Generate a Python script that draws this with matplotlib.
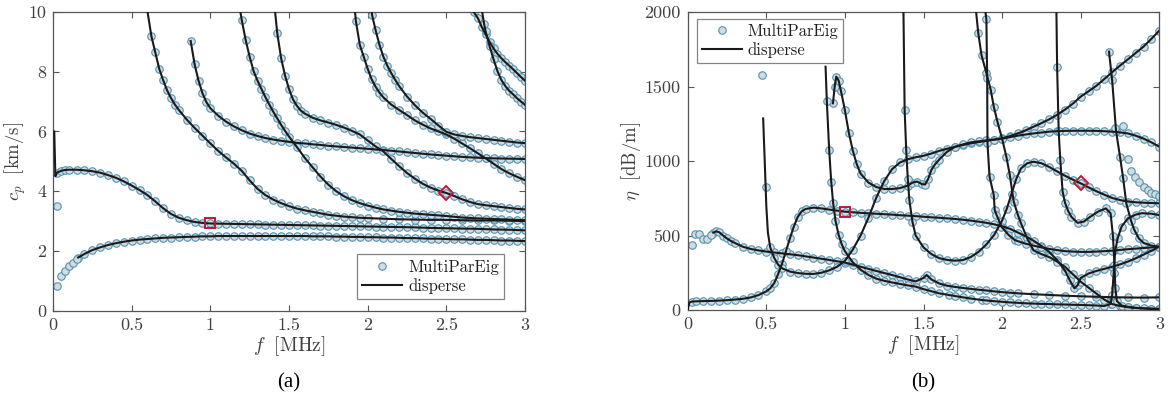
import matplotlib
matplotlib.use('Agg')
import matplotlib.pyplot as plt
from matplotlib.lines import Line2D

plt.rcParams['font.family'] = 'serif'
plt.rcParams['font.serif'] = ['cmr10', 'DejaVu Serif']
plt.rcParams['mathtext.fontset'] = 'cm'
plt.rcParams['axes.formatter.use_mathtext'] = True

# ================= left panel: phase velocity c_p [km/s] =================
a0_f = [0.16, 0.2, 0.25, 0.3, 0.35, 0.4, 0.45, 0.5, 0.55, 0.6, 0.65, 0.7, 0.75, 0.8, 0.85, 0.9, 0.95, 1.0,
        1.05, 1.1, 1.15, 1.2, 1.25, 1.3, 1.35, 1.4, 1.45, 1.5, 1.55, 1.6, 1.65, 1.7, 1.75, 1.8, 1.85, 1.9,
        1.95, 2.0, 2.05, 2.1, 2.15, 2.2, 2.25, 2.3, 2.35, 2.4, 2.45, 2.5, 2.55, 2.6, 2.65, 2.7, 2.75, 2.8,
        2.85, 2.9, 2.95, 3.0]
a0_c = [1.78, 1.9, 2.03, 2.12, 2.2, 2.26, 2.31, 2.35, 2.38, 2.4, 2.42, 2.44, 2.45, 2.46, 2.47, 2.48, 2.49, 2.49,
        2.5, 2.5, 2.5, 2.5, 2.5, 2.5, 2.5, 2.5, 2.5, 2.5, 2.5, 2.5, 2.49, 2.49, 2.49, 2.48, 2.48, 2.47,
        2.47, 2.46, 2.46, 2.45, 2.45, 2.44, 2.43, 2.43, 2.42, 2.41, 2.41, 2.4, 2.39, 2.39, 2.38, 2.37, 2.37, 2.36,
        2.35, 2.35, 2.34, 2.33]
a0_xf = [0.023, 0.05, 0.076, 0.1, 0.125, 0.15]
a0_xc = [0.83, 1.17, 1.33, 1.5, 1.61, 1.74]

s0_f = [0.008, 0.015, 0.025, 0.05, 0.075, 0.1, 0.15, 0.2, 0.25, 0.3, 0.35, 0.4, 0.45, 0.5, 0.55, 0.6, 0.65,
        0.7, 0.75, 0.8, 0.85, 0.9, 0.95, 1.0, 1.05, 1.1, 1.15, 1.2, 1.25, 1.3, 1.35, 1.4, 1.45, 1.5, 1.55,
        1.6, 1.65, 1.7, 1.75, 1.8, 1.85, 1.9, 1.95, 2.0, 2.05, 2.1, 2.15, 2.2, 2.25, 2.3, 2.35, 2.4, 2.45,
        2.5, 2.55, 2.6, 2.65, 2.7, 2.75, 2.8, 2.85, 2.9, 2.95, 3.0]
s0_c = [6.0, 4.5, 4.62, 4.68, 4.71, 4.72, 4.72, 4.7, 4.67, 4.62, 4.54, 4.45, 4.33, 4.19, 4.04, 3.87, 3.66,
        3.43, 3.24, 3.11, 3.03, 2.97, 2.94, 2.92, 2.915, 2.91, 2.905, 2.9, 2.895, 2.89, 2.885, 2.88, 2.875, 2.87, 2.865,
        2.86, 2.855, 2.85, 2.845, 2.84, 2.835, 2.83, 2.825, 2.82, 2.815, 2.81, 2.805, 2.8, 2.795, 2.79, 2.78, 2.77, 2.765,
        2.76, 2.755, 2.75, 2.745, 2.74, 2.73, 2.72, 2.715, 2.71, 2.7, 2.69]
s0_xf = [0.028]
s0_xc = [3.5]

a1_f = [0.598, 0.625, 0.65, 0.675, 0.7, 0.725, 0.75, 0.775, 0.8, 0.85, 0.9, 0.95, 1.0, 1.05, 1.1, 1.15, 1.2,
        1.25, 1.3, 1.35, 1.4, 1.45, 1.5, 1.55, 1.6, 1.65, 1.7, 1.75, 1.8, 1.85, 1.9, 1.95, 2.0, 2.1, 2.2,
        2.3, 2.4, 2.5, 2.6, 2.7, 2.8, 2.9, 3.0]
a1_c = [10.1, 9.2, 8.65, 8.1, 7.72, 7.38, 7.12, 6.9, 6.72, 6.4, 6.12, 5.86, 5.6, 5.35, 5.13, 4.92, 4.68,
        4.36, 4.08, 3.87, 3.72, 3.6, 3.5, 3.42, 3.36, 3.31, 3.26, 3.21, 3.18, 3.15, 3.13, 3.11, 3.1, 3.08, 3.06,
        3.05, 3.04, 3.04, 3.03, 3.02, 3.02, 3.01, 3.0]

s1_f = [0.875, 0.9, 0.925, 0.95, 0.975, 1.0, 1.05, 1.1, 1.15, 1.2, 1.25, 1.3, 1.35, 1.4, 1.45, 1.5, 1.55,
        1.6, 1.65, 1.7, 1.75, 1.8, 1.85, 1.9, 1.95, 2.0, 2.05, 2.1, 2.15, 2.2, 2.25, 2.3, 2.35, 2.4, 2.45,
        2.5, 2.55, 2.6, 2.65, 2.7, 2.75, 2.8, 2.85, 2.9, 2.95, 3.0]
s1_c = [9.03, 8.25, 7.7, 7.28, 6.98, 6.78, 6.53, 6.33, 6.17, 6.04, 5.93, 5.85, 5.78, 5.73, 5.69, 5.65, 5.62,
        5.6, 5.57, 5.55, 5.52, 5.5, 5.48, 5.46, 5.44, 5.42, 5.4, 5.38, 5.355, 5.33, 5.305, 5.28, 5.255, 5.23, 5.21,
        5.19, 5.17, 5.15, 5.135, 5.12, 5.11, 5.1, 5.095, 5.09, 5.085, 5.08]

m2_f = [1.188, 1.2, 1.225, 1.25, 1.275, 1.3, 1.325, 1.35, 1.375, 1.4, 1.425, 1.45, 1.475, 1.5, 1.55, 1.6,
        1.65, 1.7, 1.75, 1.8, 1.85, 1.9, 1.95, 2.0, 2.05, 2.1, 2.15, 2.2, 2.25, 2.3, 2.35, 2.4, 2.45, 2.5,
        2.55, 2.6, 2.65, 2.7, 2.75, 2.8, 2.85, 2.9, 2.95, 3.0]
m2_c = [10.1, 9.72, 9.05, 8.5, 8.02, 7.7, 7.42, 7.15, 6.9, 6.66, 6.44, 6.22, 6.02, 5.83, 5.48, 5.12,
        4.8, 4.49, 4.22, 4.0, 3.83, 3.7, 3.6, 3.52, 3.45, 3.39, 3.35, 3.31, 3.28, 3.25, 3.23, 3.21, 3.19, 3.17,
        3.145, 3.12, 3.105, 3.09, 3.08, 3.07, 3.06, 3.05, 3.04, 3.03]

m4_f = [1.41, 1.425, 1.45, 1.475, 1.5, 1.525, 1.55, 1.575, 1.6, 1.65, 1.7, 1.75, 1.8, 1.85, 1.9, 1.95,
        2.0, 2.05, 2.1, 2.15, 2.2, 2.25, 2.3, 2.35, 2.4, 2.45, 2.5, 2.55, 2.6, 2.65, 2.7, 2.75, 2.8, 2.85,
        2.9, 2.95, 3.0]
m4_c = [10.1, 9.3, 8.45, 7.87, 7.42, 7.08, 6.86, 6.7, 6.6, 6.46, 6.37, 6.3, 6.22, 6.13, 6.02, 5.9,
        5.7, 5.5, 5.33, 5.08, 4.84, 4.61, 4.42, 4.25, 4.12, 4.02, 3.94, 3.84, 3.73, 3.64, 3.57, 3.53, 3.5, 3.47,
        3.44, 3.41, 3.39]

m5_f = [1.918, 1.925, 1.95, 1.975, 2.0, 2.025, 2.05, 2.075, 2.1, 2.15, 2.2, 2.25, 2.3, 2.35, 2.4, 2.45,
        2.5, 2.55, 2.6, 2.65, 2.7, 2.75, 2.8, 2.85, 2.9, 2.95, 3.0]
m5_c = [10.1, 9.7, 8.9, 8.5, 8.1, 7.75, 7.5, 7.3, 7.14, 6.9, 6.72, 6.55, 6.37, 6.23, 6.1, 6.0,
        5.9, 5.76, 5.6, 5.44, 5.27, 5.1, 4.92, 4.74, 4.6, 4.48, 4.37]

m6_f = [2.024, 2.028, 2.05, 2.075, 2.1, 2.125, 2.15, 2.175, 2.2, 2.25, 2.3, 2.35, 2.4, 2.45, 2.5, 2.55,
        2.6, 2.65, 2.7, 2.75, 2.8, 2.85, 2.9, 2.95, 3.0]
m6_c = [10.1, 9.9, 9.4, 8.9, 8.5, 8.2, 7.95, 7.73, 7.52, 7.17, 6.88, 6.63, 6.42, 6.2, 5.99, 5.9,
        5.85, 5.81, 5.78, 5.75, 5.72, 5.69, 5.66, 5.63, 5.61]

m7_f = [2.674, 2.7, 2.725, 2.75, 2.775, 2.8, 2.825, 2.85, 2.875, 2.9, 2.925, 2.95, 2.975, 3.0]
m7_c = [10.0, 9.8, 9.5, 9.25, 9.0, 8.78, 8.6, 8.45, 8.32, 8.2, 8.08, 7.95, 7.82, 7.7]

m8_f = [2.725, 2.74, 2.75, 2.775, 2.8, 2.825, 2.85, 2.875, 2.9, 2.925, 2.95, 2.975, 3.0]
m8_c = [10.1, 9.6, 9.35, 8.85, 8.42, 8.02, 7.72, 7.52, 7.36, 7.24, 7.11, 7.0, 6.89]

# (f, value, number of leading points drawn as line only)
left_curves = [(a0_f, a0_c, 0), (s0_f, s0_c, 2), (a1_f, a1_c, 1), (s1_f, s1_c, 0), (m2_f, m2_c, 1),
               (m4_f, m4_c, 1), (m5_f, m5_c, 1), (m6_f, m6_c, 1), (m7_f, m7_c, 0), (m8_f, m8_c, 1)]
left_extra = [(a0_xf, a0_xc), (s0_xf, s0_xc)]
left_square = (1.0, 2.92)
left_diamond = (2.5, 3.94)

# ================= right panel: attenuation eta [dB/m] =================
r_a0_f = [0.163, 0.18, 0.2, 0.225, 0.25, 0.275, 0.3, 0.35, 0.4, 0.45, 0.5, 0.55, 0.6, 0.65, 0.7, 0.75,
          0.8, 0.85, 0.9, 0.95, 1.0, 1.05, 1.1, 1.15, 1.2, 1.25, 1.3, 1.35, 1.4, 1.45, 1.5, 1.52, 1.55,
          1.6, 1.65, 1.7, 1.75, 1.8, 1.85, 1.9, 1.95, 2.0, 2.05, 2.1, 2.2, 2.3, 2.4, 2.5, 2.6, 2.7, 2.8,
          2.9, 3.0]
r_a0_e = [519, 528, 522, 500, 480, 463, 450, 425, 410, 400, 392, 386, 380, 374, 368, 360,
          352, 344, 336, 327, 318, 305, 290, 276, 262, 248, 235, 220, 205, 192, 215, 235, 205,
          178, 163, 155, 148, 142, 136, 131, 125, 120, 116, 112, 106, 101, 96, 92, 89, 86, 84,
          83, 85]
r_a0_xf = [0.025, 0.047, 0.074, 0.095, 0.12, 0.146]
r_a0_xe = [436, 510, 510, 474, 474, 503]

r_s0_f = [0.0, 0.01, 0.025, 0.05, 0.1, 0.15, 0.2, 0.25, 0.3, 0.35, 0.4, 0.45, 0.5, 0.525, 0.55, 0.575,
          0.6, 0.625, 0.65, 0.675, 0.7, 0.725, 0.75, 0.8, 0.85, 0.9, 0.95, 1.0, 1.05, 1.1, 1.15, 1.2,
          1.25, 1.3, 1.35, 1.4, 1.45, 1.5, 1.55, 1.6, 1.65, 1.7, 1.75, 1.8, 1.85, 1.9, 1.95, 2.0, 2.05,
          2.1, 2.15, 2.2, 2.25, 2.3, 2.35, 2.4, 2.43, 2.46, 2.48, 2.5, 2.55, 2.6, 2.65, 2.7, 2.75, 2.8,
          2.85, 2.9, 2.95, 3.0]
r_s0_e = [0, 50, 56, 58, 60, 61, 63, 66, 70, 75, 84, 100, 125, 145, 180, 240,
          310, 395, 480, 560, 625, 662, 678, 687, 682, 674, 667, 660, 656, 652, 649, 646,
          643, 640, 636, 633, 630, 626, 622, 619, 615, 611, 606, 600, 593, 585, 575, 562, 545,
          520, 495, 465, 430, 390, 335, 265, 200, 145, 165, 215, 245, 262, 276, 290, 306, 325,
          347, 372, 398, 425]

r_a1_f = [0.48, 0.49, 0.5, 0.51, 0.525, 0.55, 0.575, 0.6, 0.65, 0.7, 0.75, 0.8, 0.85, 0.9, 0.95, 1.0,
          1.05, 1.1, 1.15, 1.2, 1.25, 1.3, 1.35, 1.4, 1.45, 1.5, 1.55, 1.6, 1.65, 1.7, 1.75, 1.8, 1.85,
          1.9, 1.95, 2.0, 2.05, 2.1, 2.15, 2.2, 2.25, 2.3, 2.35, 2.4, 2.45, 2.5, 2.55, 2.6, 2.65, 2.7,
          2.75, 2.8, 2.85, 2.9, 2.95, 3.0]
r_a1_e = [1286, 1000, 700, 520, 420, 350, 305, 280, 258, 248, 243, 242, 250, 266, 290, 330,
          405, 500, 620, 755, 865, 945, 990, 1012, 1025, 1035, 1050, 1068, 1082, 1095, 1107, 1118, 1127,
          1135, 1143, 1152, 1167, 1185, 1206, 1230, 1254, 1280, 1310, 1345, 1385, 1432, 1468, 1505, 1550, 1596,
          1640, 1682, 1725, 1768, 1820, 1875]
r_a1_xf = [0.47, 0.5]
r_a1_xe = [1575, 825]

r_pk_f = [0.924, 0.935, 0.945, 0.96, 0.975, 1.0, 1.025, 1.05, 1.075, 1.1, 1.15, 1.2, 1.25, 1.3, 1.35,
          1.4, 1.43, 1.46, 1.49, 1.51, 1.53, 1.55, 1.575, 1.6, 1.65, 1.7, 1.75, 1.8, 1.85, 1.9, 1.95,
          2.0, 2.05, 2.1, 2.15, 2.2, 2.25, 2.3, 2.35, 2.4, 2.45, 2.5, 2.55, 2.6, 2.65, 2.7, 2.75, 2.8,
          2.85, 2.9, 2.95, 3.0]
r_pk_e = [1387, 1500, 1566, 1540, 1470, 1340, 1190, 1070, 980, 915, 855, 825, 812, 812, 818,
          835, 855, 862, 845, 842, 880, 940, 980, 1010, 1062, 1095, 1111, 1125, 1132, 1138, 1144,
          1150, 1160, 1170, 1178, 1185, 1191, 1197, 1200, 1202, 1203, 1203, 1203, 1202, 1200, 1197, 1192, 1185,
          1170, 1150, 1125, 1096]

r_v2_f = [0.877, 0.885, 0.9, 0.913, 0.925, 0.94, 0.96, 0.98, 1.0, 1.05, 1.1, 1.15, 1.2, 1.25, 1.3, 1.35,
          1.4, 1.45, 1.5, 1.55, 1.6, 1.66, 1.7, 1.75, 1.8, 1.87, 1.9, 1.95, 2.0, 2.05, 2.1, 2.15, 2.2,
          2.25, 2.3, 2.35, 2.4, 2.45, 2.5, 2.55, 2.6, 2.65, 2.69, 2.7, 2.71, 2.72, 2.735, 2.76, 2.8,
          2.85, 2.89, 2.95, 3.0]
r_v2_e = [1633, 1400, 1074, 860, 720, 600, 505, 440, 395, 320, 270, 235, 210, 196, 185, 175,
          165, 157, 140, 126, 112, 101, 94, 85, 77, 67, 64, 59, 55, 51, 48, 45, 43,
          41, 40, 38, 37, 35, 34, 32, 30, 27, 40, 100, 250, 400, 480, 560, 615,
          640, 650, 646, 637]

r_h_f = [1.372, 1.38, 1.39, 1.4, 1.41, 1.43, 1.45, 1.5, 1.55, 1.6, 1.65, 1.7, 1.75, 1.8, 1.85, 1.9,
         1.95, 2.0, 2.03, 2.06, 2.09, 2.12, 2.16, 2.2, 2.25, 2.3, 2.35, 2.4, 2.45, 2.5, 2.55, 2.6, 2.65,
         2.7, 2.75, 2.8, 2.85, 2.9, 2.95, 3.0]
r_h_e = [2050, 1342, 1074, 880, 738, 590, 500, 420, 375, 348, 336, 331, 335, 355, 390, 440,
         505, 600, 680, 780, 880, 950, 985, 995, 985, 960, 930, 901, 875, 850, 823, 797, 774,
         752, 738, 728, 723, 720, 718, 716]

r_v4_f = [1.83, 1.848, 1.869, 1.9, 1.928, 1.947, 1.97, 2.0, 2.027, 2.049, 2.074, 2.1, 2.12, 2.16, 2.2,
          2.25, 2.3, 2.35, 2.4, 2.45, 2.5, 2.55, 2.6, 2.65, 2.7, 2.75, 2.8, 2.85, 2.9, 2.95, 3.0]
r_v4_e = [2050, 1861, 1711, 1590, 1476, 1365, 1264, 1150, 1029, 906, 727, 640, 582, 480, 400,
          375, 355, 325, 290, 240, 190, 150, 110, 70, 40, 27, 18, 13, 10, 7, 5]

r_v5_f = [1.888, 1.9, 1.905, 1.907, 1.92, 1.947, 1.953, 1.964, 1.996, 2.04, 2.08, 2.1, 2.15, 2.2, 2.25,
          2.3, 2.35, 2.4, 2.45, 2.5, 2.55, 2.6, 2.65, 2.7, 2.75, 2.8, 2.85, 2.9, 2.95, 3.0]
r_v5_e = [2050, 1951, 1560, 1118, 895, 772, 671, 640, 559, 505, 470, 462, 445, 432, 420,
          410, 402, 395, 392, 390, 390, 392, 395, 398, 403, 408, 412, 416, 420, 425]

r_v6_f = [2.345, 2.35, 2.36, 2.37, 2.385, 2.4, 2.42, 2.44, 2.48, 2.52, 2.56, 2.61, 2.66, 2.69, 2.705,
          2.715, 2.72, 2.73, 2.76, 2.8, 2.85, 2.9, 2.95, 3.0]
r_v6_e = [2050, 1628, 1200, 1007, 794, 720, 665, 626, 585, 593, 625, 660, 682, 649, 500,
          300, 150, 60, 30, 22, 15, 12, 10, 8]

r_v7_f = [2.68, 2.7, 2.725, 2.75, 2.77, 2.79, 2.82, 2.84, 2.87, 2.9, 2.95, 3.0]
r_v7_e = [1734, 1543, 1200, 1029, 884, 716, 600, 540, 480, 450, 432, 425]

r_ghost_f = [2.72, 2.77, 2.8, 2.82, 2.845, 2.87, 2.9, 2.93, 2.95, 2.97, 3.0]
r_ghost_e = [1219, 1235, 1013, 935, 895, 861, 828, 805, 787, 778, 765]

right_curves = [(r_a0_f, r_a0_e, 0), (r_s0_f, r_s0_e, 2), (r_a1_f, r_a1_e, 4), (r_pk_f, r_pk_e, 0),
                (r_v2_f, r_v2_e, 1), (r_h_f, r_h_e, 1), (r_v4_f, r_v4_e, 1), (r_v5_f, r_v5_e, 1),
                (r_v6_f, r_v6_e, 1), (r_v7_f, r_v7_e, 0)]
right_extra = [(r_a0_xf, r_a0_xe), (r_a1_xf, r_a1_xe), (r_ghost_f, r_ghost_e)]
right_square = (1.0, 660)
right_diamond = (2.5, 850)

# ================= styling =================
LINE_C = '#1a1a1a'
MK_FACE = '#d4dade'
MK_EDGE = '#4f93b5'
RED = '#c0163c'
AX_C = '#555555'
TXT_C = '#404040'

fig = plt.figure(figsize=(11.75, 4.01), dpi=100)
axL = fig.add_axes([53 / 1175, 1 - 310.7 / 401, (525 - 53) / 1175, (310.7 - 12) / 401])
axR = fig.add_axes([687.7 / 1175, 1 - 310 / 401, (1159.3 - 687.7) / 1175, (310 - 12) / 401])

mk_kw = dict(linestyle='none', marker='o', markersize=5.4, markerfacecolor=MK_FACE,
             markeredgecolor=MK_EDGE, markeredgewidth=0.8, zorder=2)
ln_kw = dict(color=LINE_C, linewidth=1.5, zorder=3)


def draw(ax, curves, extras, sq, dm):
    for f, v, skip in curves:
        ax.plot(f[skip:], v[skip:], **mk_kw)
        ax.plot(f, v, **ln_kw)
    for f, v in extras:
        ax.plot(f, v, **mk_kw)
    ax.plot([sq[0]], [sq[1]], linestyle='none', marker='s', markersize=7, markerfacecolor='none',
            markeredgecolor=RED, markeredgewidth=1.4, zorder=5)
    ax.plot([dm[0]], [dm[1]], linestyle='none', marker='D', markersize=7.5, markerfacecolor='none',
            markeredgecolor=RED, markeredgewidth=1.4, zorder=5)


draw(axL, left_curves, left_extra, left_square, left_diamond)
draw(axR, right_curves, right_extra, right_square, right_diamond)

xt = [0, 0.5, 1, 1.5, 2, 2.5, 3]
xtl = ['0', '0.5', '1', '1.5', '2', '2.5', '3']
axL.set_xlim(0, 3)
axL.set_ylim(0, 10)
axL.set_xticks(xt)
axL.set_xticklabels(xtl)
axL.set_yticks([0, 2, 4, 6, 8, 10])
axL.set_yticklabels(['0', '2', '4', '6', '8', '10'])
axL.set_xlabel(r'$f\ \ [\mathrm{MHz}]$', fontsize=14, color=TXT_C, labelpad=1)
axL.set_ylabel(r'$c_p\ \ [\mathrm{km/s}]$', fontsize=13.5, color=TXT_C, labelpad=0)

axR.set_xlim(0, 3)
axR.set_ylim(0, 2000)
axR.set_xticks(xt)
axR.set_xticklabels(xtl)
axR.set_yticks([0, 500, 1000, 1500, 2000])
axR.set_yticklabels(['0', '500', '1000', '1500', '2000'])
axR.set_xlabel(r'$f\ \ [\mathrm{MHz}]$', fontsize=14, color=TXT_C, labelpad=1)
axR.set_ylabel(r'$\eta\ \ [\mathrm{dB/m}]$', fontsize=13.5, color=TXT_C, labelpad=1)

for ax in (axL, axR):
    ax.tick_params(direction='in', length=4, width=0.8, color=AX_C, labelcolor=TXT_C,
                   labelsize=13, top=True, right=True, pad=5)
    for s in ax.spines.values():
        s.set_color(AX_C)
        s.set_linewidth(0.9)

handles = [Line2D([], [], **mk_kw), Line2D([], [], **ln_kw)]
labels = ['MultiParEig', 'disperse']
common = dict(fontsize=12, frameon=True, fancybox=False, edgecolor='#666666', borderpad=0.3,
              handlelength=2.4, handletextpad=0.35, labelspacing=0.2, borderaxespad=0.0)
legL = axL.legend(handles, labels, loc='lower right', bbox_to_anchor=(0.9555, 0.04), **common)
legR = axR.legend(handles, labels, loc='upper left', bbox_to_anchor=(0.019, 0.977), **common)
for leg in (legL, legR):
    leg.get_frame().set_linewidth(0.9)
    for t in leg.get_texts():
        t.set_color('#202020')

fig.text((53 + 525) / 2 / 1175, 1 - 383 / 401, '(a)', ha='center', va='center', fontsize=15,
         family=['Liberation Serif'], color='black')
fig.text((687.7 + 1159.3) / 2 / 1175, 1 - 383 / 401, '(b)', ha='center', va='center', fontsize=15,
         family=['Liberation Serif'], color='black')

fig.savefig('out.png', dpi=100)
